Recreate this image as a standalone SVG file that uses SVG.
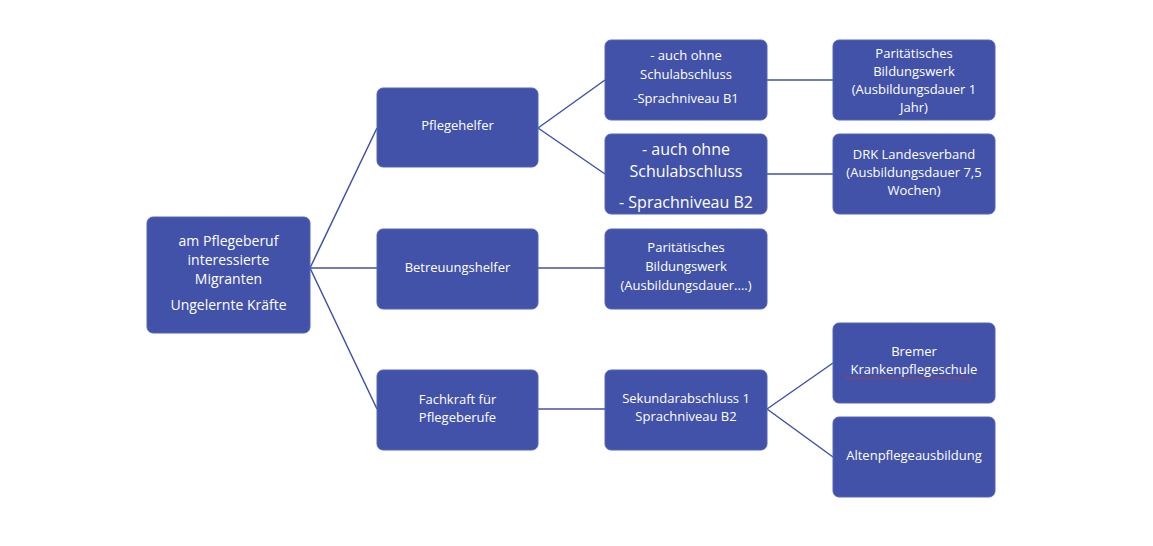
<svg xmlns="http://www.w3.org/2000/svg" width="1153" height="546" viewBox="0 0 1153 546">
<style>
.n rect{fill:#4152a8;stroke:#5566b8;stroke-width:1}
.n text{fill:#fff;font-family:"Open Sans",sans-serif;font-size:13px;text-anchor:middle}
.n text.b{font-size:16px}
#edges path{stroke:#4152a8;stroke-width:1.5;fill:none}
</style>
<rect width="1153" height="546" fill="#fff"/>
<g id="edges">
<path d="M310 268L377 128M310 268H377M310 268L377 409"/>
<path d="M538 128L605 80M538 128L605 174M767 80H833M767 174H833"/>
<path d="M538 268H605M538 409H605M767 409L833 363M767 409L833 457"/>
</g>
<g id="root" class="n"><rect x="147" y="217" width="163" height="116" rx="6"/>
<text x="228.5" y="246" style="font-size:14px">am Pflegeberuf</text><text x="228.5" y="265" style="font-size:14px">interessierte</text><text x="228.5" y="284" style="font-size:14px">Migranten</text><text x="228.5" y="310" style="font-size:14px">Ungelernte Kräfte</text></g>
<g id="pflegehelfer" class="n"><rect x="377" y="88" width="161" height="79" rx="6"/><text x="457.5" y="130">Pflegehelfer</text></g>
<g id="betreuungshelfer" class="n"><rect x="377" y="229" width="161" height="80" rx="6"/><text x="457.5" y="272">Betreuungshelfer</text></g>
<g id="fachkraft" class="n"><rect x="377" y="370" width="161" height="80" rx="6"/><text x="457.5" y="404">Fachkraft für</text><text x="457.5" y="422">Pflegeberufe</text></g>
<g id="b1" class="n"><rect x="605" y="40" width="162" height="80" rx="6"/><text x="686" y="60">- auch ohne</text><text x="686" y="79">Schulabschluss</text><text x="686" y="103">-Sprachniveau B1</text></g>
<g id="b2" class="n"><rect x="605" y="134" width="162" height="80" rx="6"/><text class="b" x="686" y="155">- auch ohne</text><text class="b" x="686" y="177">Schulabschluss</text><text class="b" x="686" y="208">- Sprachniveau B2</text></g>
<g id="pbw2" class="n"><rect x="605" y="229" width="162" height="80" rx="6"/><text x="686" y="252">Paritätisches</text><text x="686" y="271">Bildungswerk</text><text x="686" y="290">(Ausbildungsdauer....)</text></g>
<g id="sek" class="n"><rect x="605" y="370" width="162" height="80" rx="6"/><text x="686" y="403">Sekundarabschluss 1</text><text x="686" y="421">Sprachniveau B2</text></g>
<g id="pbw1" class="n"><rect x="833" y="40" width="162" height="80" rx="6"/><text x="914" y="58">Paritätisches</text><text x="914" y="76">Bildungswerk</text><text x="914" y="94">(Ausbildungsdauer 1</text><text x="914" y="112">Jahr)</text></g>
<g id="drk" class="n"><rect x="833" y="134" width="162" height="80" rx="6"/><text x="914" y="159">DRK Landesverband</text><text x="914" y="177">(Ausbildungsdauer 7,5</text><text x="914" y="195">Wochen)</text></g>
<g id="bremer" class="n"><rect x="833" y="323" width="162" height="80" rx="6"/><text x="914" y="356">Bremer</text><text x="914" y="374">Krankenpflegeschule</text>
<path d="M845 378q1.5-2 3 0t3 0t3 0t3 0t3 0t3 0t3 0t3 0t3 0t3 0t3 0t3 0t3 0t3 0t3 0t3 0t3 0t3 0t3 0t3 0t3 0t3 0t3 0t3 0t3 0t3 0t3 0t3 0t3 0t3 0t3 0t3 0t3 0t3 0t3 0t3 0t3 0t3 0t3 0t3 0t3 0t3 0" fill="none" stroke="#c0392b" stroke-width="0.8"/></g>
<g id="alten" class="n"><rect x="833" y="417" width="162" height="80" rx="6"/><text x="914" y="460">Altenpflegeausbildung</text></g>
</svg>
